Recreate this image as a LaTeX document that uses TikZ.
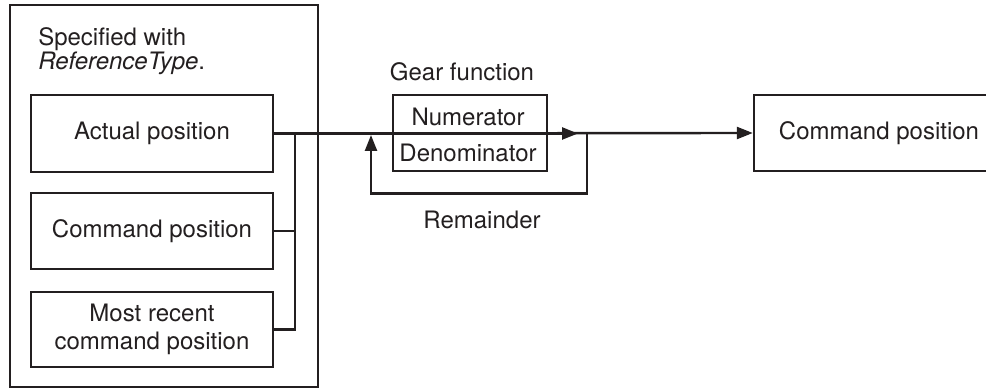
\documentclass[tikz,border=0pt]{standalone}
\usepackage{fontspec}
\setmainfont{TeX Gyre Heros}
\usepackage{tikz}
\usetikzlibrary{positioning,arrows.meta,calc}
\definecolor{ink}{HTML}{231F20}
\tikzset{
  blk/.style  ={draw=ink, line width=1.8pt, fill=white, align=center,
                inner sep=0pt, text=ink,
                font=\fontsize{18}{21}\selectfont},
  lbl/.style  ={text=ink, inner sep=0pt, align=left,
                font=\fontsize{18}{21}\selectfont},
  ln/.style   ={draw=ink, line width=1.8pt},
  ar/.style   ={-{Triangle[length=12pt,width=9pt]}, draw=ink,
                line width=1.8pt}
}
\begin{document}
\begin{tikzpicture}[x=0.75pt,y=-0.75pt]
\useasboundingbox (0,0) rectangle (986,391);
% source group, left
\node[blk, minimum width=231pt, minimum height=286.5pt] (spec) at (164,196) {};
\node[lbl, anchor=north west, font=\fontsize{18}{17}\selectfont] (spectxt) at (38,27)
  {Specified with\\ \textit{ReferenceType}.};
\node[blk, minimum width=181.5pt, minimum height=57.75pt] (act) at (152,133.5)
  {Actual position};
\node[blk, minimum width=181.5pt, minimum height=57pt] (cmd) at (152,231)
  {Command position};
\node[blk, minimum width=181.5pt, minimum height=56.25pt] (recent) at (152,329.5)
  {Most recent\\ command position};
% gear function and result
\node[blk, minimum width=115.5pt, minimum height=57pt] (gear) at (470,133) {};
\node[lbl] (num) at (468,117) {Numerator};
\node[lbl] (den) at (468,153) {Denominator};
\node[lbl] (geartxt) at (462,72) {Gear function};
\node[blk, minimum width=187.5pt, minimum height=57pt] (out) at (879,133)
  {Command position};
\node[lbl] (rem) at (482,220) {Remainder};

\coordinate (bus)  at (295,133.5);
\coordinate (tipA) at (578,133.5);
\coordinate (rtap) at (587,133.5);
\coordinate (ltap) at (371,135);

\draw[ln] (act.east -| bus) |- (recent.east);
\draw[ln] (cmd.east) -- (cmd.east -| bus);
\draw[ar] (act.east) -- (out.west);
\draw[ar] (act.east) -- (tipA);
% remainder fed back
\draw[ar] (rtap) -- ++(0,60) -| (ltap);
\end{tikzpicture}
\end{document}
